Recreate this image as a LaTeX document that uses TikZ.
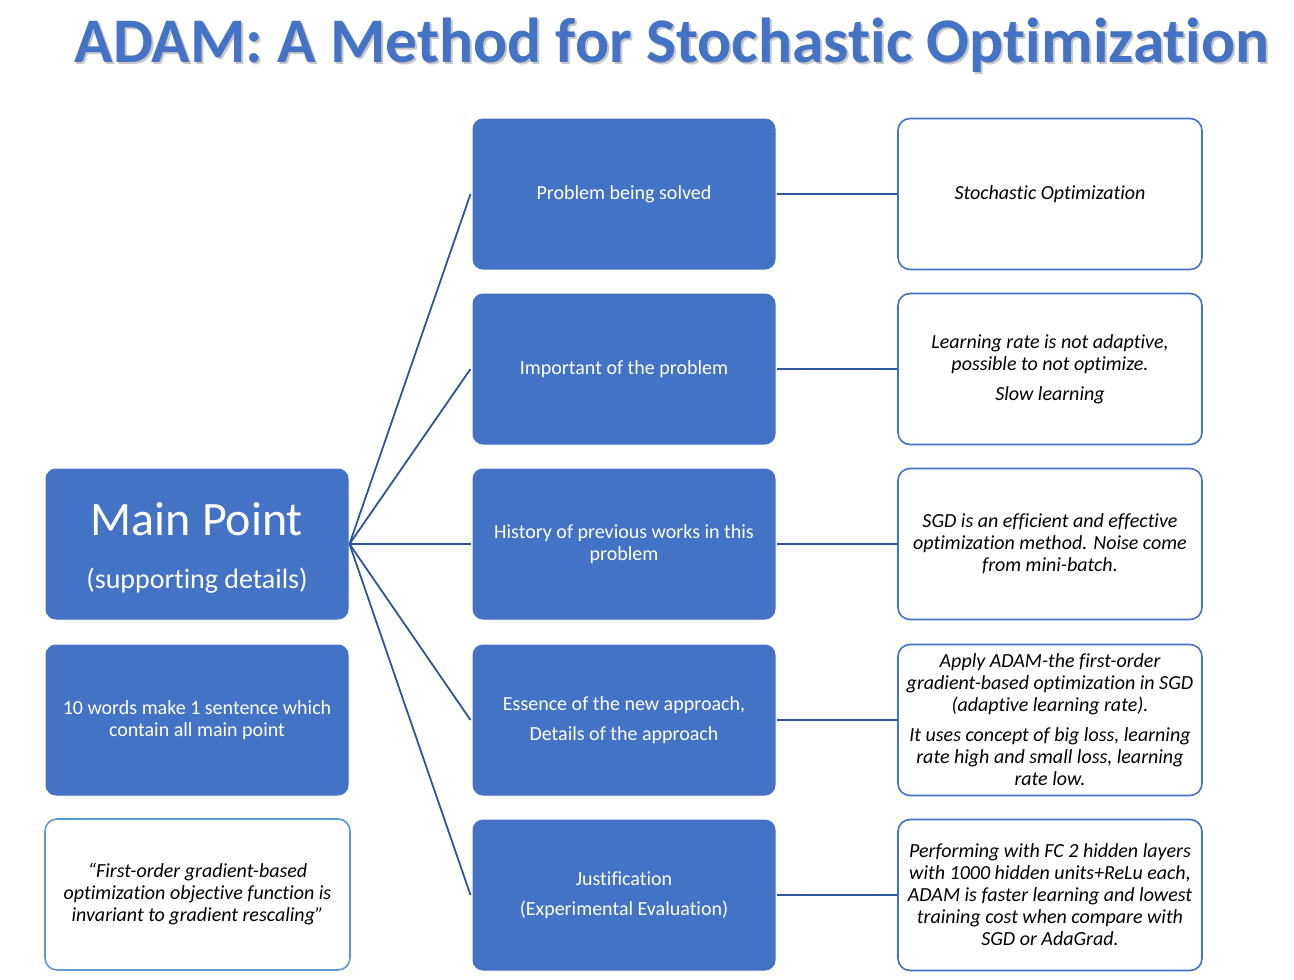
\documentclass[tikz,border=0pt]{standalone}
\usepackage{fontspec}
\setmainfont{Carlito}[Ligatures={TeX,NoCommon}]
\definecolor{accblue}{HTML}{4472C4}
\definecolor{linkblue}{HTML}{2F5597}
\definecolor{lightblue}{HTML}{5B9BD5}
\begin{document}
\begin{tikzpicture}[x=1pt,y=-1pt,
  bluebox/.style={draw=accblue,fill=accblue,rounded corners=10pt,minimum width=302pt,minimum height=150pt,text=white,align=center,inner sep=0pt,line width=1pt,font=\fontsize{20}{22}\selectfont},
  whitebox/.style={draw=accblue,fill=white,rounded corners=12pt,minimum width=304pt,minimum height=151pt,text=black,align=center,inner sep=0pt,line width=1.6pt,font=\fontsize{20}{22}\selectfont\itshape},
  quotebox/.style={whitebox,draw=lightblue},
  link/.style={draw=linkblue,line width=1.8pt},
  titletext/.style={font=\fontsize{63.5}{70}\selectfont\bfseries}]
\useasboundingbox (0,0) rectangle (1294,980);
% title
\node[text=black!22,titletext] (titleshadow) at (674,47) {ADAM: A Method for Stochastic Optimization};
\node[text=accblue,titletext] (title) at (672,45) {ADAM: A Method for Stochastic Optimization};
% left column
\node[bluebox] (main) at (197,544) {};
\node[text=white,font=\fontsize{48}{50}\selectfont] (mainA) at (197,519) {Main Point};
\node[text=white,font=\fontsize{28}{30}\selectfont] (mainB) at (197,581) {(supporting details)};
\node[bluebox] (ten) at (197,720) {10 words make 1 sentence which\\contain all main point};
\node[quotebox,minimum width=305pt] (quote) at (197.5,894.5) {“First-order gradient-based\\optimization objective function is\\invariant to gradient rescaling”};
% middle column
\node[bluebox] (m1) at (624,194) {Problem being solved};
\node[bluebox] (m2) at (624,369) {Important of the problem};
\node[bluebox] (m3) at (624,544) {History of previous works in this\\problem};
\node[bluebox] (m4) at (624,720) {Essence of the new approach,\\[8pt]Details of the approach};
\node[bluebox] (m5) at (624,895) {Justification\\[8pt](Experimental Evaluation)};
% right column
\node[whitebox] (r1) at (1050,194) {Stochastic Optimization};
\node[whitebox] (r2) at (1050,369) {Learning rate is not adaptive,\\possible to not optimize.\\[8pt]Slow learning};
\node[whitebox] (r3) at (1050,544) {SGD is an efficient and effective\\optimization method. Noise come\\from mini-batch.};
\node[whitebox] (r4) at (1050,720) {Apply ADAM-the first-order\\gradient-based optimization in SGD\\(adaptive learning rate).\\[8pt]It uses concept of big loss, learning\\rate high and small loss, learning\\rate low.};
\node[whitebox] (r5) at (1050,895) {Performing with FC 2 hidden layers\\with 1000 hidden units+ReLu each,\\ADAM is faster learning and lowest\\training cost when compare with\\SGD or AdaGrad.};
% connectors
\foreach \m in {m1,m2,m3,m4,m5}{
  \draw[link] ([xshift=1pt]main.east) -- ([xshift=-2pt]\m.west);
}
\foreach \i in {1,...,5}{
  \draw[link] ([xshift=1pt]m\i.east) -- (r\i.west);
}
\end{tikzpicture}
\end{document}
